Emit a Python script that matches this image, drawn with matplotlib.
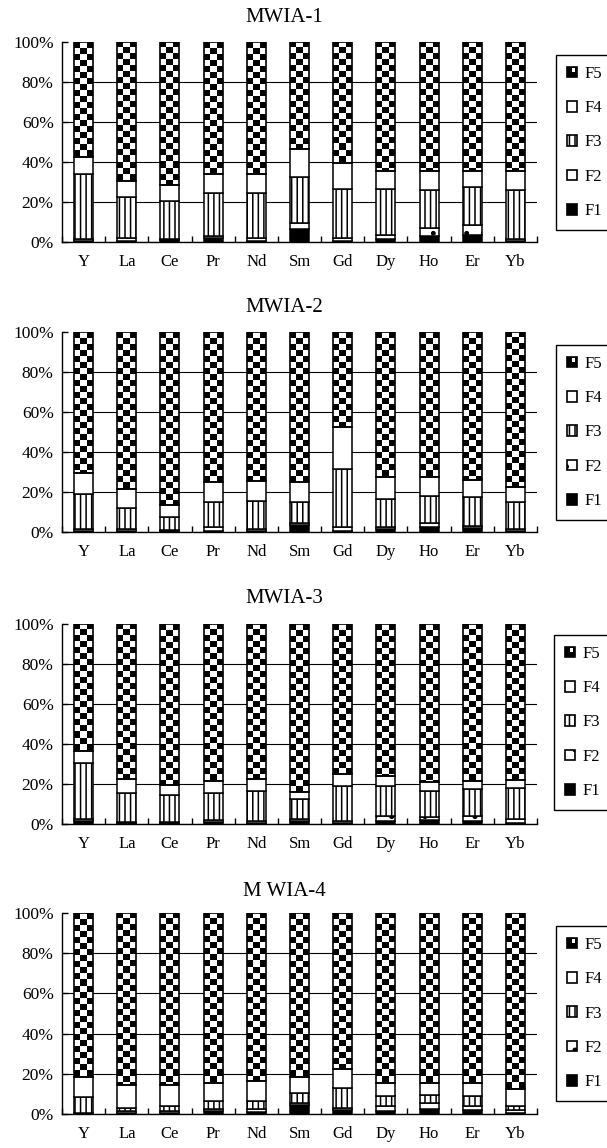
import numpy as np
import matplotlib
matplotlib.use('Agg')
import matplotlib.pyplot as plt
from matplotlib.patches import Patch, Rectangle
from matplotlib.legend_handler import HandlerBase

plt.rcParams['font.family'] = 'Liberation Serif'
plt.rcParams['hatch.linewidth'] = 1.1
plt.rcParams['hatch.color'] = 'black'

elements = ['Y', 'La', 'Ce', 'Pr', 'Nd', 'Sm', 'Gd', 'Dy', 'Ho', 'Er', 'Yb']
titles = ['MWIA-1', 'MWIA-2', 'MWIA-3', 'M WIA-4']
fractions = ['F1', 'F2', 'F3', 'F4', 'F5']

# share of each fraction (%) by element
mwia1_f1 = [0.4, 0.5, 0.8, 2.0, 0.5, 6.7, 0.5, 1.7, 3.0, 3.3, 0.5]
mwia1_f2 = [1.1, 1.5, 0.9, 1.0, 1.5, 3.0, 1.5, 2.0, 4.0, 5.0, 0.8]
mwia1_f3 = [32.5, 20.3, 19.0, 21.3, 22.3, 22.6, 24.7, 23.0, 19.0, 19.4, 24.7]
mwia1_f4 = [8.5, 8.0, 7.6, 9.7, 9.7, 14.0, 12.6, 8.6, 9.3, 7.6, 9.3]
mwia1_f5 = [57.5, 69.7, 71.7, 66.0, 66.0, 53.7, 60.7, 64.7, 64.7, 64.7, 64.7]

mwia2_f1 = [0.5, 0.5, 0.3, 0.5, 0.5, 3.3, 0.3, 1.7, 2.7, 2.0, 0.5]
mwia2_f2 = [1.2, 1.2, 0.7, 1.8, 0.8, 1.4, 2.0, 0.6, 1.6, 1.0, 0.8]
mwia2_f3 = [17.3, 10.3, 6.3, 12.7, 14.4, 10.3, 29.4, 14.0, 13.7, 14.3, 13.7]
mwia2_f4 = [10.7, 9.7, 6.4, 10.0, 10.0, 10.0, 21.0, 11.4, 9.7, 8.7, 7.3]
mwia2_f5 = [70.3, 78.3, 86.3, 75.0, 74.3, 75.0, 47.3, 72.3, 72.3, 74.0, 77.7]

mwia3_f1 = [1.3, 0.5, 0.5, 1.0, 0.5, 1.3, 0.7, 1.7, 2.0, 1.7, 0.7]
mwia3_f2 = [1.4, 0.5, 0.5, 1.0, 1.2, 1.0, 1.0, 2.3, 1.7, 2.3, 1.6]
mwia3_f3 = [27.6, 14.3, 13.3, 13.3, 14.6, 10.4, 17.3, 15.0, 13.0, 13.7, 15.7]
mwia3_f4 = [6.0, 7.0, 5.4, 6.0, 6.0, 3.3, 6.0, 5.0, 4.3, 3.6, 4.0]
mwia3_f5 = [63.7, 77.7, 80.3, 78.7, 77.7, 84.0, 75.0, 76.0, 79.0, 78.7, 78.0]

mwia4_f1 = [0.2, 0.5, 0.7, 1.3, 1.0, 4.7, 2.0, 1.7, 2.3, 2.0, 0.7]
mwia4_f2 = [0.3, 1.2, 1.0, 1.4, 1.3, 0.6, 1.0, 2.3, 3.0, 2.0, 1.3]
mwia4_f3 = [7.8, 1.3, 2.3, 3.6, 4.0, 5.0, 10.0, 5.0, 4.0, 5.0, 2.0]
mwia4_f4 = [10.3, 11.3, 10.3, 9.0, 10.0, 8.3, 9.6, 6.3, 6.0, 6.3, 8.3]
mwia4_f5 = [81.4, 85.7, 85.7, 84.7, 83.7, 81.4, 77.4, 84.7, 84.7, 84.7, 87.7]

samples = [
    [mwia1_f1, mwia1_f2, mwia1_f3, mwia1_f4, mwia1_f5],
    [mwia2_f1, mwia2_f2, mwia2_f3, mwia2_f4, mwia2_f5],
    [mwia3_f1, mwia3_f2, mwia3_f3, mwia3_f4, mwia3_f5],
    [mwia4_f1, mwia4_f2, mwia4_f3, mwia4_f4, mwia4_f5],
]

# fill style for F1..F4, F5 gets a checkerboard
styles = [
    dict(facecolor='black', hatch=None),
    dict(facecolor='white', hatch='.'),
    dict(facecolor='white', hatch='|||'),
    dict(facecolor='white', hatch=None),
]

W, H = 607, 1148
ax_top = [42, 332, 624, 913]
ax_bottom = [242, 532, 824, 1114]
title_y = [17, 307, 598, 892]
leg_top = [55, 345, 635, 926]
leg_left = [556, 556, 554, 556]
ax_left, ax_right = 62, 537
bar_w = 0.44


def checker(ax, bar, sq=3.0, ncol=3):
    x0, y0 = bar.get_x(), bar.get_y()
    w, h = bar.get_width(), bar.get_height()
    nrow = int(np.ceil(h / sq))
    ii, jj = np.indices((nrow, ncol))
    board = (ii + jj) % 2
    im = ax.imshow(board, cmap='gray', vmin=0, vmax=1, origin='upper',
                   extent=[x0, x0 + w, y0 + h - nrow * sq, y0 + h],
                   interpolation='nearest', aspect='auto', zorder=2)
    im.set_clip_path(bar)


class CheckerHandler(HandlerBase):
    def create_artists(self, legend, orig_handle, xdescent, ydescent,
                       width, height, fontsize, trans):
        x, y = -xdescent, -ydescent
        base = Rectangle((x, y), width, height, facecolor='black',
                         edgecolor='black', lw=1.2, transform=trans)
        notch = Rectangle((x + width / 2, y + height / 2), width / 2 - 1,
                          height / 2 - 1, facecolor='white',
                          edgecolor='none', transform=trans)
        return [base, notch]


fig = plt.figure(figsize=(W / 100, H / 100), dpi=100)
x = np.arange(len(elements))

for k in range(4):
    ax = fig.add_axes([ax_left / W, 1 - ax_bottom[k] / H,
                       (ax_right - ax_left) / W, (ax_bottom[k] - ax_top[k]) / H])
    bottom = np.zeros(len(elements))
    vals = samples[k]
    for j in range(4):
        ax.bar(x, vals[j], bar_w, bottom=bottom, edgecolor='black',
               linewidth=1.1, zorder=3, **styles[j])
        bottom += np.array(vals[j])
    top = ax.bar(x, vals[4], bar_w, bottom=bottom, facecolor='none',
                 edgecolor='black', linewidth=1.2, zorder=3)
    for b in top:
        checker(ax, b)

    ax.set_xlim(-0.5, len(elements) - 0.5)
    ax.set_ylim(0, 100)
    ax.set_xticks(x)
    ax.set_xticklabels(elements, fontsize=12)
    ax.set_xticks(np.arange(-0.5, len(elements), 1), minor=True)
    ax.tick_params(axis='x', which='major', length=0, pad=9)
    ax.tick_params(axis='x', which='minor', direction='in', length=4, width=1)
    ax.set_yticks(range(0, 101, 20))
    ax.set_yticklabels([f'{v}%' for v in range(0, 101, 20)], fontsize=12.5)
    ax.tick_params(axis='y', direction='in', length=4, width=1, pad=6)
    ax.set_axisbelow(True)
    ax.yaxis.grid(True, color='black', linewidth=0.8)
    ax.yaxis.get_gridlines()[-1].set_visible(False)
    for s in ['top', 'right']:
        ax.spines[s].set_visible(False)
    for s in ['left', 'bottom']:
        ax.spines[s].set_linewidth(1)

    fig.text(284 / W, 1 - title_y[k] / H, titles[k], ha='center', va='center',
             fontsize=15)

    handles = [Patch(facecolor='white', edgecolor='black', label='F5')]
    for j in [3, 2, 1, 0]:
        handles.append(Patch(edgecolor='black', linewidth=1.2,
                             label=fractions[j], **styles[j]))
    leg = ax.legend(handles=handles, loc='upper left',
                    bbox_to_anchor=(leg_left[k] / W, 1 - leg_top[k] / H),
                    bbox_transform=fig.transFigure, fontsize=12,
                    handler_map={handles[0]: CheckerHandler()},
                    frameon=True, fancybox=False, edgecolor='black',
                    framealpha=1, borderpad=0.65, labelspacing=1.1,
                    handlelength=0.6, handleheight=0.6, handletextpad=0.45,
                    borderaxespad=0)
    leg.get_frame().set_linewidth(1)

fig.savefig('out.png', dpi=100)
